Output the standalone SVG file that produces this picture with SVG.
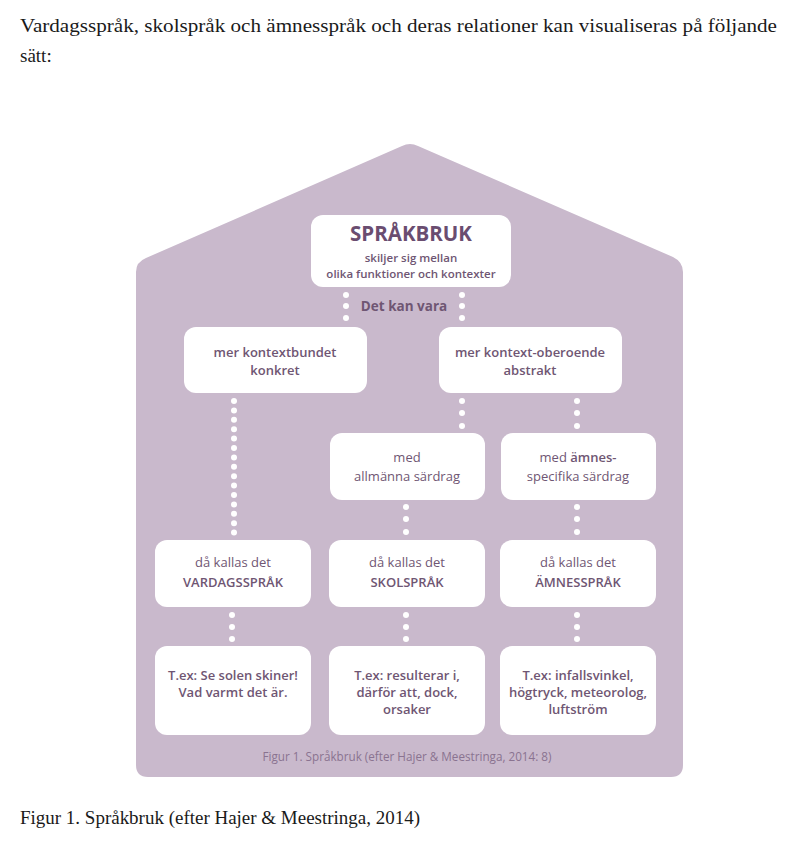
<svg xmlns="http://www.w3.org/2000/svg" width="793" height="845" viewBox="0 0 793 845">
<style>
.page{font-family:"Liberation Serif","DejaVu Serif",serif;fill:#1a1a1a;font-size:19px}
.box{fill:#ffffff}
.t{font-family:"Open Sans","Liberation Sans",sans-serif;fill:#6f5673;font-size:13px;text-anchor:middle;font-weight:600}
.n{font-weight:400}
.dot{fill:#ffffff}
</style>
<rect width="793" height="845" fill="#ffffff"/>
<text class="page" x="20" y="32" textLength="757" lengthAdjust="spacingAndGlyphs">Vardagsspråk, skolspråk och ämnesspråk och deras relationer kan visualiseras på följande</text>
<text class="page" x="20" y="62">sätt:</text>
<path id="house" d="M 148 777 Q 136 777 136 765 L 136 272 Q 136 262 146 258 L 402 146 Q 410 142 418 146 L 673 257 Q 683 262 683 272 L 683 765 Q 683 777 671 777 Z" fill="#c9b9cc"/>
<g id="connectors">
<g class="dot">
<circle cx="346" cy="295" r="3"/><circle cx="346" cy="306" r="3"/><circle cx="346" cy="318" r="3"/>
<circle cx="462" cy="295" r="3"/><circle cx="462" cy="306" r="3"/><circle cx="462" cy="318" r="3"/>
<circle cx="234" cy="401" r="3"/><circle cx="234" cy="410.4" r="3"/><circle cx="234" cy="419.8" r="3"/><circle cx="234" cy="429.2" r="3"/><circle cx="234" cy="438.6" r="3"/><circle cx="234" cy="448" r="3"/><circle cx="234" cy="457.4" r="3"/><circle cx="234" cy="466.8" r="3"/><circle cx="234" cy="476.2" r="3"/><circle cx="234" cy="485.6" r="3"/><circle cx="234" cy="495" r="3"/><circle cx="234" cy="504.4" r="3"/><circle cx="234" cy="513.8" r="3"/><circle cx="234" cy="523.2" r="3"/><circle cx="234" cy="532.6" r="3"/>
<circle cx="462" cy="401" r="3"/><circle cx="462" cy="413" r="3"/><circle cx="462" cy="426" r="3"/>
<circle cx="577" cy="401" r="3"/><circle cx="577" cy="413" r="3"/><circle cx="577" cy="426" r="3"/>
<circle cx="406" cy="507" r="3"/><circle cx="406" cy="519" r="3"/><circle cx="406" cy="532" r="3"/>
<circle cx="577" cy="507" r="3"/><circle cx="577" cy="519" r="3"/><circle cx="577" cy="532" r="3"/>
<circle cx="232" cy="615" r="3"/><circle cx="232" cy="627" r="3"/><circle cx="232" cy="639" r="3"/>
<circle cx="406" cy="615" r="3"/><circle cx="406" cy="627" r="3"/><circle cx="406" cy="639" r="3"/>
<circle cx="577" cy="615" r="3"/><circle cx="577" cy="627" r="3"/><circle cx="577" cy="639" r="3"/>
</g>
<text class="t" x="404" y="311" style="font-weight:700;font-size:13.5px">Det kan vara</text>
</g>
<g id="sprakbruk">
<rect class="box" x="311" y="215" width="200" height="72" rx="12"/>
<text class="t" x="411" y="241" style="font-size:20.5px;font-weight:700;fill:#6a4d70">SPRÅKBRUK</text>
<text class="t" x="411" y="262" style="font-size:11.5px">skiljer sig mellan</text>
<text class="t" x="411" y="278" style="font-size:11.5px">olika funktioner och kontexter</text>
</g>
<g id="kontextbundet">
<rect class="box" x="184" y="327" width="183" height="66" rx="12"/>
<text class="t" x="275" y="357">mer kontextbundet</text>
<text class="t" x="275" y="375">konkret</text>
</g>
<g id="oberoende">
<rect class="box" x="439" y="327" width="183" height="66" rx="12"/>
<text class="t" x="530" y="357">mer kontext-oberoende</text>
<text class="t" x="530" y="375">abstrakt</text>
</g>
<g id="allmanna">
<rect class="box" x="330" y="433" width="155" height="67" rx="12"/>
<text class="t n" x="407" y="462">med</text>
<text class="t" x="407" y="481" style="font-weight:500">allmänna särdrag</text>
</g>
<g id="amnesspecifika">
<rect class="box" x="501" y="433" width="155" height="67" rx="12"/>
<text class="t" x="578" y="462"><tspan class="n">med </tspan>ämnes-</text>
<text class="t" x="578" y="481" style="font-weight:500">specifika särdrag</text>
</g>
<g id="vardagssprak">
<rect class="box" x="155" y="540" width="156" height="67" rx="12"/>
<text class="t n" x="233" y="567">då kallas det</text>
<text class="t" x="233" y="587">VARDAGSSPRÅK</text>
</g>
<g id="skolsprak">
<rect class="box" x="329" y="540" width="156" height="67" rx="12"/>
<text class="t n" x="407" y="567">då kallas det</text>
<text class="t" x="407" y="587">SKOLSPRÅK</text>
</g>
<g id="amnessprak">
<rect class="box" x="500" y="540" width="156" height="67" rx="12"/>
<text class="t n" x="578" y="567">då kallas det</text>
<text class="t" x="578" y="587">ÄMNESSPRÅK</text>
</g>
<g id="ex-vardag">
<rect class="box" x="155" y="646" width="156" height="89" rx="12"/>
<text class="t" x="233" y="680">T.ex: Se solen skiner!</text>
<text class="t" x="233" y="697">Vad varmt det är.</text>
</g>
<g id="ex-skol">
<rect class="box" x="329" y="646" width="156" height="89" rx="12"/>
<text class="t" x="407" y="680">T.ex: resulterar i,</text>
<text class="t" x="407" y="697">därför att, dock,</text>
<text class="t" x="407" y="714">orsaker</text>
</g>
<g id="ex-amne">
<rect class="box" x="500" y="646" width="156" height="89" rx="12"/>
<text class="t" x="578" y="680">T.ex: infallsvinkel,</text>
<text class="t" x="578" y="697">högtryck, meteorolog,</text>
<text class="t" x="578" y="714">luftström</text>
</g>
<text class="t n" x="407" y="761" style="font-size:11.7px;fill:#8a7390">Figur 1. Språkbruk (efter Hajer &amp; Meestringa, 2014: 8)</text>
<text class="page" x="20" y="824" textLength="400" lengthAdjust="spacingAndGlyphs">Figur 1. Språkbruk (efter Hajer &amp; Meestringa, 2014)</text>
</svg>
